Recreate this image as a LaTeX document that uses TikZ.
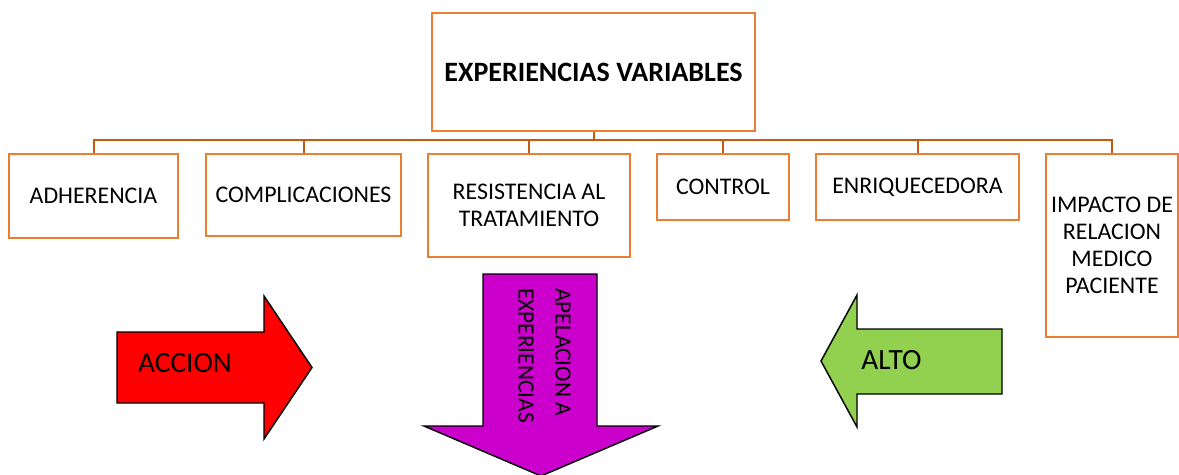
\documentclass[tikz,border=0pt]{standalone}
\usepackage{fontspec}
\setmainfont{Carlito}
\definecolor{boxor}{HTML}{ED7D31}
\definecolor{connor}{HTML}{C55A11}
\definecolor{accred}{HTML}{FF0000}
\definecolor{accgreen}{HTML}{92D050}
\definecolor{accmag}{HTML}{CC00CC}
\begin{document}
\begin{tikzpicture}[x=0.75pt,y=-0.75pt,
  box/.style={draw=boxor, line width=1.5pt, fill=white, align=center,
    font=\fontsize{17.9}{20.2}\selectfont, inner sep=0pt},
  conn/.style={draw=connor, line width=1.5pt},
  bigarrow/.style={draw=black, line width=1.1pt, line join=miter},
  arrowtext/.style={font=\fontsize{22}{26}\selectfont, inner sep=0pt}]
\useasboundingbox (0,0) rectangle (1179,475);
\coordinate (hl) at (0,140);
\node[box, minimum width=323*0.75pt, minimum height=118*0.75pt,
  font=\fontsize{21}{25}\selectfont\bfseries] (top) at (593.5,72) {EXPERIENCIAS VARIABLES};
\node[box, minimum width=169*0.75pt, minimum height=84*0.75pt] (adh) at (93.5,196) {ADHERENCIA};
\node[box, minimum width=195*0.75pt, minimum height=82*0.75pt] (comp) at (303.5,195) {COMPLICACIONES};
\node[box, minimum width=202*0.75pt, minimum height=103*0.75pt] (res) at (529,205.5) {RESISTENCIA AL\\TRATAMIENTO};
\node[box, minimum width=132*0.75pt, minimum height=66*0.75pt] (ctrl) at (723,187) {CONTROL};
\node[box, minimum width=203*0.75pt, minimum height=66*0.75pt] (enr) at (917.5,187) {ENRIQUECEDORA};
\node[box, minimum width=132*0.75pt, minimum height=183*0.75pt] (imp) at (1112,245.5) {IMPACTO DE\\RELACION\\MEDICO\\PACIENTE};
\draw[conn] (top.south) -- (top.south |- hl);
\draw[conn] (adh.north) |- (imp.north |- hl) -- (imp.north);
\draw[conn] (comp.north) -- (comp.north |- hl);
\draw[conn] (res.north) -- (res.north |- hl);
\draw[conn] (ctrl.north) -- (ctrl.north |- hl);
\draw[conn] (enr.north) -- (enr.north |- hl);
\draw[bigarrow, fill=accred] (117,332) -- (264,332) -- (264,296) -- (312,367.5) -- (264,439) -- (264,403) -- (117,403) -- cycle;
\draw[bigarrow, fill=accgreen] (1002,329) -- (857,329) -- (857,295) -- (821,361) -- (857,427) -- (857,394) -- (1002,394) -- cycle;
\draw[bigarrow, fill=accmag] (483,274) -- (597,274) -- (597,426) -- (658,426) -- (541,476) -- (424,426) -- (483,426) -- cycle;
\node[arrowtext] (accion) at (185,363) {ACCION};
\node[arrowtext] (alto) at (891.5,360) {ALTO};
\node[inner sep=0pt, rotate=-90, anchor=north west, align=left,
  font=\fontsize{17.5}{27.75}\selectfont] (apel) at (571,288) {APELACION A\\EXPERIENCIAS};
\end{tikzpicture}
\end{document}
